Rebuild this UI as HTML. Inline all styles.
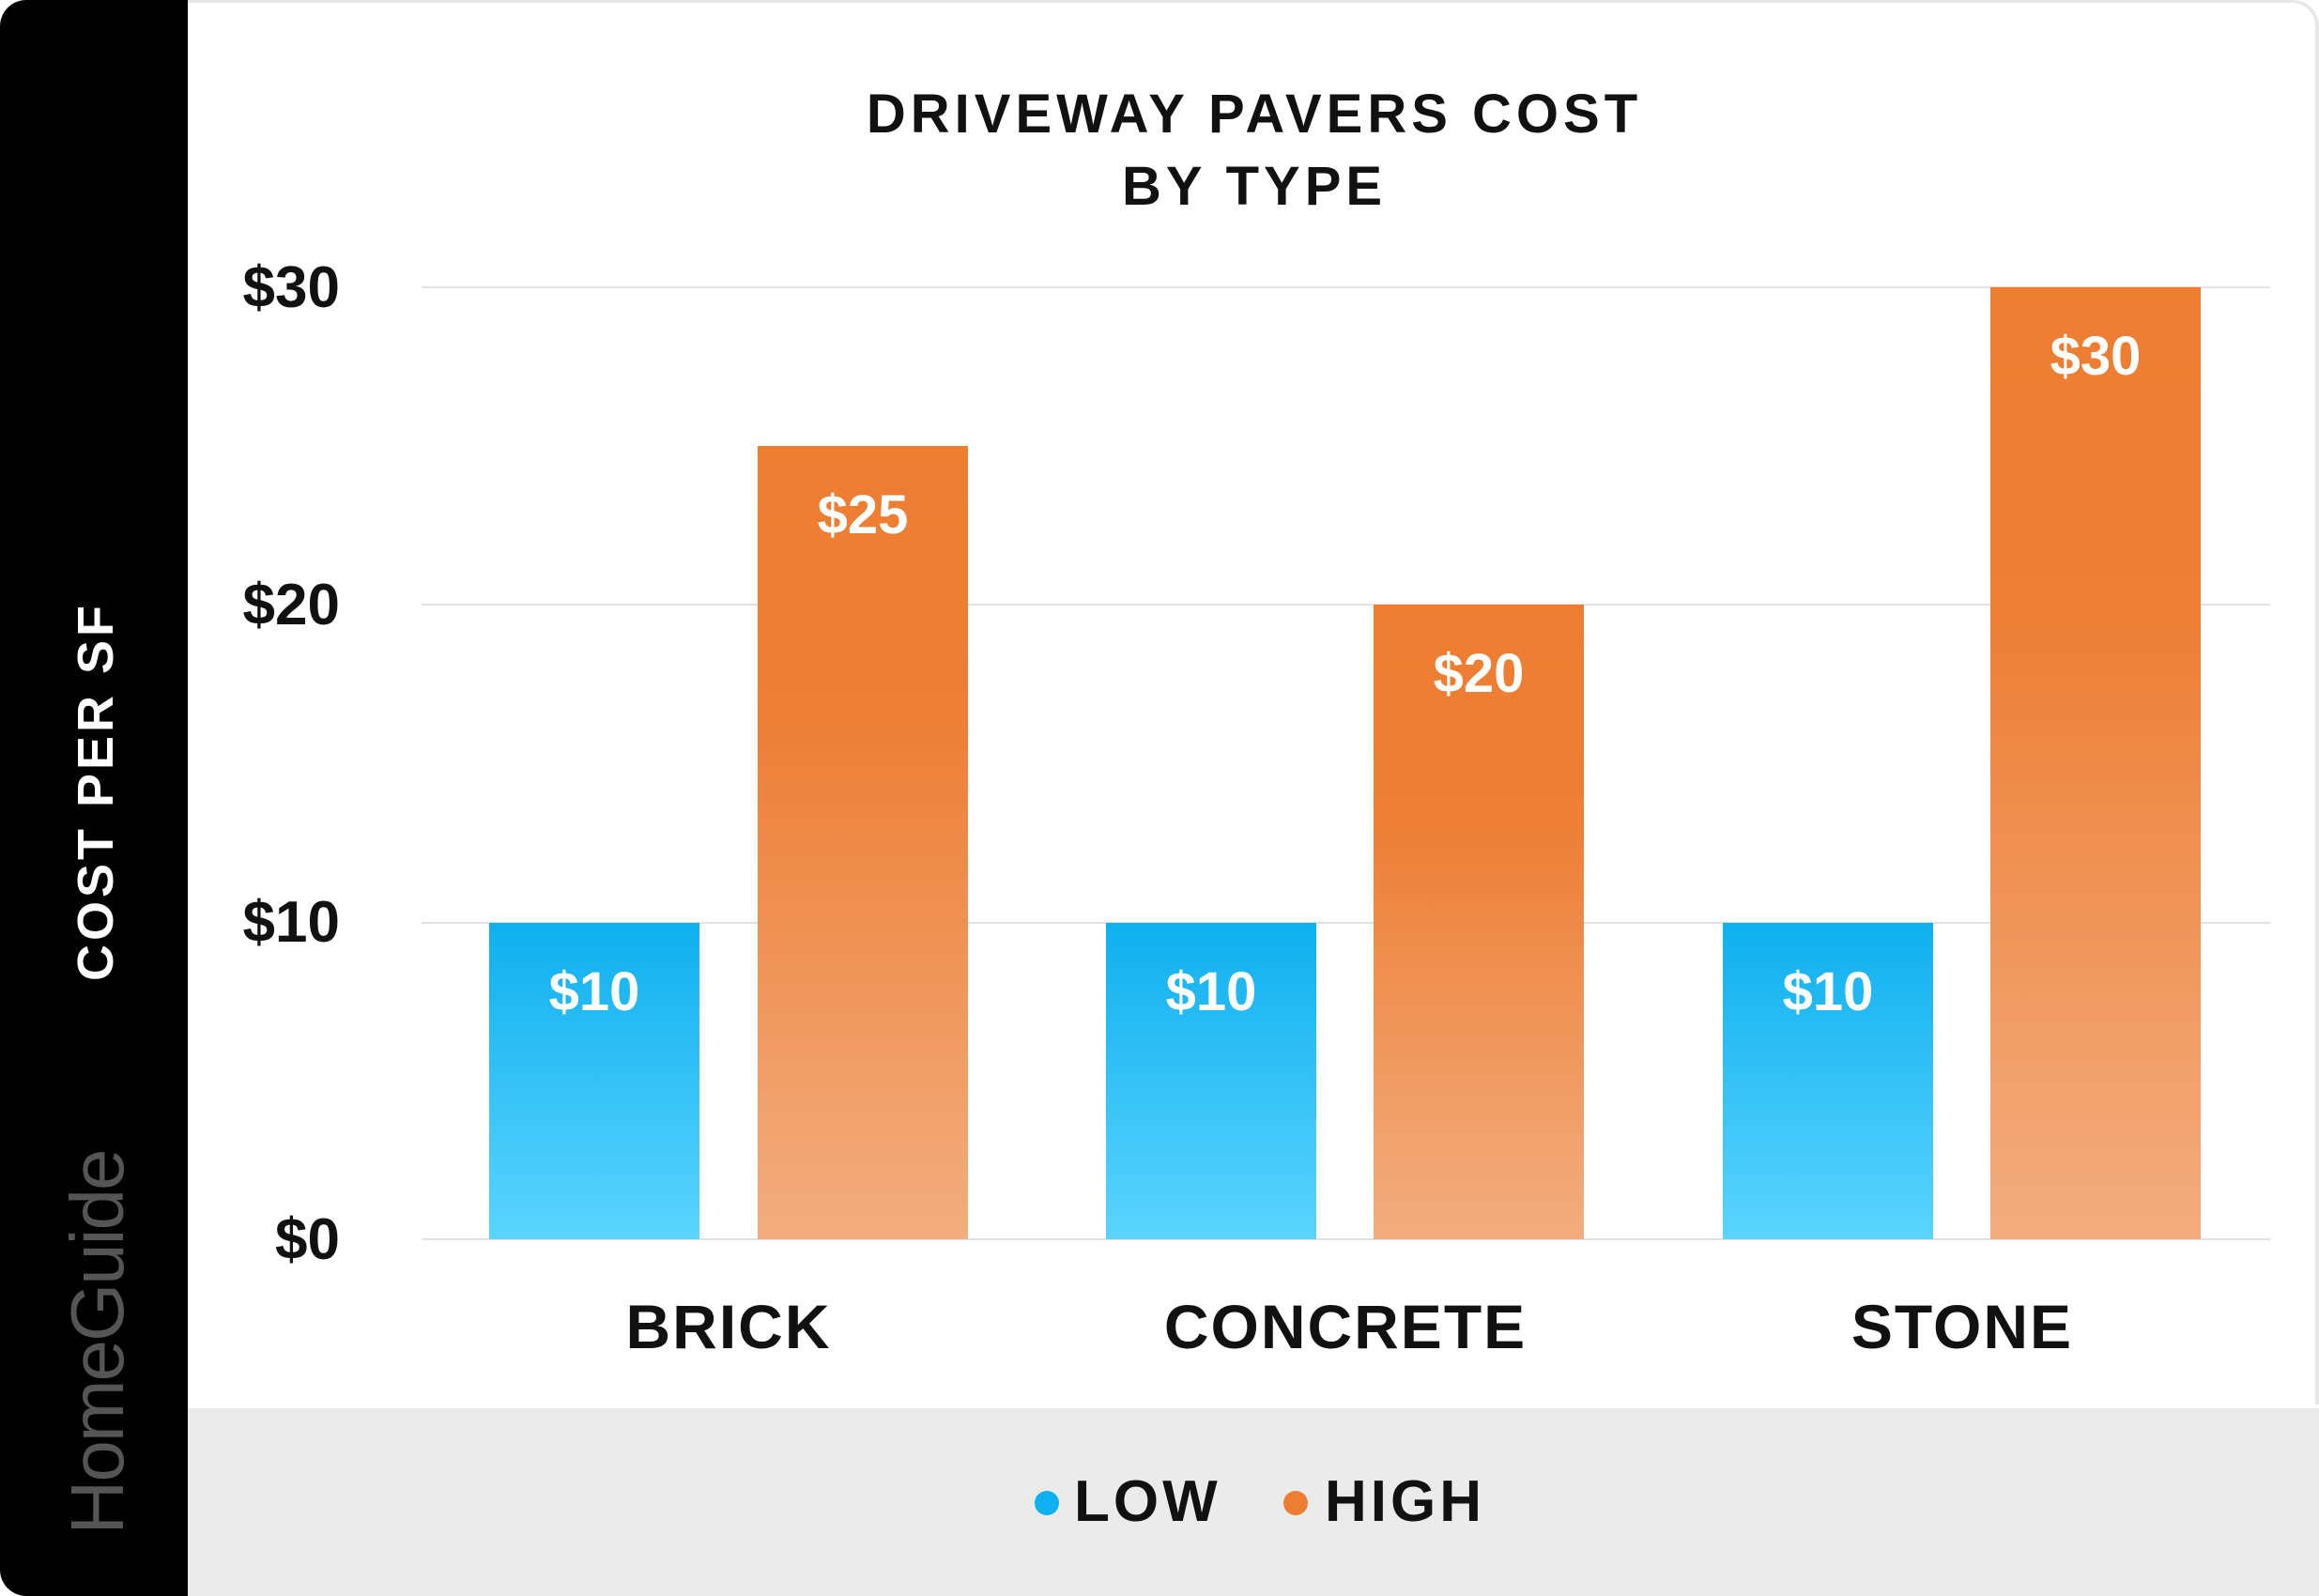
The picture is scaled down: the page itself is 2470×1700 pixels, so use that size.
<!DOCTYPE html>
<html><head><meta charset="utf-8"><style>
html,body{margin:0;padding:0;}
body{width:2470px;height:1700px;position:relative;background:#fff;overflow:hidden;font-family:"Liberation Sans",sans-serif;font-weight:bold;}
.abs{position:absolute;}
.blk{left:0;top:0;width:200px;height:1700px;background:#000;border-radius:28px 0 0 28px;}
.band{left:200px;top:1500px;width:2270px;height:200px;background:#ebebeb;}
.frame{left:200px;top:0;width:2466px;height:1496px;border-top:3px solid #e6e6e6;border-right:4px solid #e6e6e6;box-sizing:border-box;width:2270px;border-radius:0 28px 0 0;}
.title{left:800px;width:1072px;text-align:center;font-size:58px;letter-spacing:5px;color:#111;}
.grid{left:449px;width:1969px;height:2px;background:#e2e2e2;}
.yl{left:200px;width:162px;text-align:right;font-size:62px;color:#111;line-height:70px;}
.bar{width:224px;}
.low{background:linear-gradient(#0fb0ef,#5ad4fe);}
.high{background:linear-gradient(#ed7d31 0%,#ed7f36 35%,#f3ad7f 100%);}
.val{color:#fff;font-size:58px;text-align:center;width:224px;line-height:70px;}
.cat{font-size:66px;color:#111;text-align:center;width:500px;line-height:80px;letter-spacing:2px;}
.leg{font-size:62px;color:#111;letter-spacing:4px;line-height:70px;top:1565px;}
.dot{width:26px;height:26px;border-radius:50%;top:1588px;}
</style></head><body>
<div class="abs frame"></div>
<div class="abs blk"></div>
<div class="abs band"></div>
<div class="abs title" style="top:88px;">DRIVEWAY PAVERS COST</div>
<div class="abs title" style="top:165px;">BY TYPE</div>

<div class="abs grid" style="top:305px"></div>
<div class="abs grid" style="top:643px"></div>
<div class="abs grid" style="top:982px"></div>
<div class="abs grid" style="top:1319px"></div>
<div class="abs yl" style="top:272px">$30</div>
<div class="abs yl" style="top:610px">$20</div>
<div class="abs yl" style="top:948px">$10</div>
<div class="abs yl" style="top:1286px">$0</div>

<div class="abs bar low" style="left:521px;top:983px;height:337px"></div>
<div class="abs bar high" style="left:807px;top:475px;height:845px"></div>
<div class="abs bar low" style="left:1178px;top:983px;height:337px"></div>
<div class="abs bar high" style="left:1463px;top:644px;height:676px"></div>
<div class="abs bar low" style="left:1835px;top:983px;height:337px"></div>
<div class="abs bar high" style="left:2120px;top:306px;height:1014px"></div>

<div class="abs val" style="left:521px;top:1022px">$10</div>
<div class="abs val" style="left:807px;top:514px">$25</div>
<div class="abs val" style="left:1178px;top:1022px">$10</div>
<div class="abs val" style="left:1463px;top:683px">$20</div>
<div class="abs val" style="left:1835px;top:1022px">$10</div>
<div class="abs val" style="left:2120px;top:345px">$30</div>

<div class="abs cat" style="left:526px;top:1373px">BRICK</div>
<div class="abs cat" style="left:1183px;top:1373px">CONCRETE</div>
<div class="abs cat" style="left:1840px;top:1373px">STONE</div>

<div class="abs dot" style="left:1102px;background:#0fb0ef"></div>
<div class="abs leg" style="left:1144px">LOW</div>
<div class="abs dot" style="left:1367px;background:#ed7d31"></div>
<div class="abs leg" style="left:1411px">HIGH</div>

<div class="abs" style="left:102px;top:843px;transform:translate(-50%,-50%) rotate(-90deg);color:#fff;font-size:54px;letter-spacing:4px;white-space:nowrap;">COST PER SF</div>
<div class="abs" style="left:104px;top:1430px;transform:translate(-50%,-50%) rotate(-90deg);color:#555;font-size:80px;font-weight:normal;letter-spacing:-2px;white-space:nowrap;">HomeGuide</div>
</body></html>
